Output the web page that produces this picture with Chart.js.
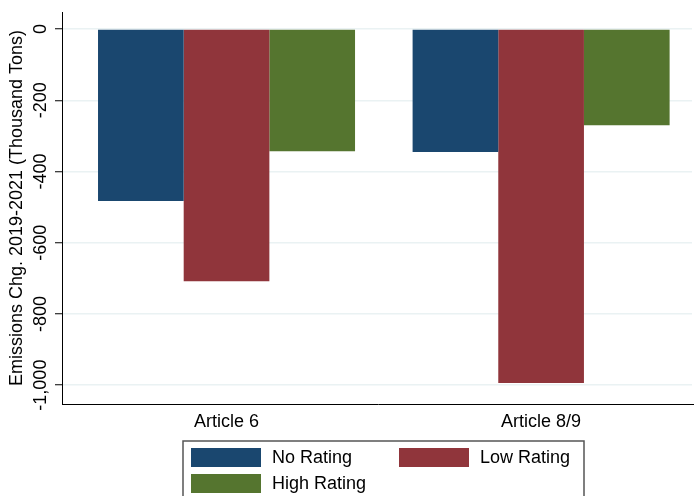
<!DOCTYPE html>
<html>
<head>
<meta charset="utf-8">
<script src="https://cdn.jsdelivr.net/npm/chart.js@4"></script>
<style>
  body { margin: 0; background: #fff; }
  canvas { display: block; }
</style>
</head>
<body>
<canvas id="emissionsChart" width="694" height="496"></canvas>
<script>
"use strict";

// Groups along the x axis
const categories = ['Article 6', 'Article 8/9'];

// Emissions change 2019-2021, thousand tons
const noRating = [-483, -345];
const lowRating = [-708, -994];
const highRating = [-343, -270];

const yTicks = [0, -200, -400, -600, -800, -1000];

const fontFamily = '"Liberation Sans", Arial, Helvetica, sans-serif';

// group k sits at x = k + 1 on a linear axis
const toPoints = function (values) {
    return values.map(function (v, i) { return { x: i + 1, y: v }; });
};

// Two-column boxed legend, Stata style
const boxLegend = {
    id: 'boxLegend',
    afterDraw: function (chart) {
        const ctx = chart.ctx;
        const sets = chart.data.datasets;
        const area = chart.chartArea;
        const left = 183, top = 441, width = 401, height = 62;
        const colX = [191, 399];
        const rowY = [448, 474];
        const swW = 70, swH = 19;

        ctx.save();
        // keep the plot open on the right side
        ctx.fillStyle = '#ffffff';
        ctx.fillRect(area.right - 2, area.top - 1, 3, area.bottom - area.top);

        ctx.strokeStyle = '#555555';
        ctx.lineWidth = 1.5;
        ctx.strokeRect(left, top, width, height);

        ctx.font = '18px ' + fontFamily;
        ctx.textBaseline = 'middle';
        ctx.textAlign = 'left';
        sets.forEach(function (ds, i) {
            const x = colX[i % 2];
            const y = rowY[Math.floor(i / 2)];
            ctx.fillStyle = ds.backgroundColor;
            ctx.fillRect(x, y, swW, swH);
            ctx.fillStyle = '#000000';
            ctx.fillText(ds.label, x + 81, y + swH / 2 + 1);
        });
        ctx.restore();
    }
};

const ctx = document.getElementById('emissionsChart');

const chart = new Chart(ctx, {
    type: 'bar',
    data: {
        datasets: [
            { label: 'No Rating', data: toPoints(noRating), backgroundColor: '#1a476f' },
            { label: 'Low Rating', data: toPoints(lowRating), backgroundColor: '#90353b' },
            { label: 'High Rating', data: toPoints(highRating), backgroundColor: '#55752f' }
        ]
    },
    options: {
        responsive: false,
        animation: false,
        layout: {
            padding: { top: 12, right: 0, left: 0, bottom: 0 }
        },
        datasets: {
            bar: {
                categoryPercentage: 0.817,
                barPercentage: 1,
                borderWidth: 0
            }
        },
        plugins: {
            legend: { display: false },
            tooltip: { enabled: false }
        },
        scales: {
            x: {
                type: 'linear',
                offset: false,
                min: 0.477,
                max: 2.486,
                afterBuildTicks: function (scale) {
                    scale.ticks = categories.map(function (c, i) { return { value: i + 1 }; });
                },
                afterFit: function (scale) {
                    scale.height = 92;
                },
                grid: {
                    display: false,
                    drawTicks: false,
                    offset: false
                },
                border: {
                    display: true,
                    color: '#000000',
                    width: 1
                },
                ticks: {
                    padding: 7,
                    maxRotation: 0,
                    color: '#000000',
                    font: { family: fontFamily, size: 18 },
                    callback: function (value) {
                        return categories[value - 1];
                    }
                }
            },
            y: {
                min: -1053,
                max: 48,
                afterBuildTicks: function (scale) {
                    scale.ticks = yTicks.map(function (v) { return { value: v }; });
                },
                afterFit: function (scale) {
                    scale.width = 62;
                },
                grid: {
                    color: '#eaf2f3',
                    lineWidth: 1.5,
                    tickLength: 7,
                    tickColor: '#000000',
                    tickWidth: 1
                },
                border: {
                    display: true,
                    color: '#000000',
                    width: 1
                },
                ticks: {
                    minRotation: 90,
                    maxRotation: 90,
                    crossAlign: 'center',
                    padding: -11.5,
                    color: '#000000',
                    font: { family: fontFamily, size: 18 },
                    callback: function (value) {
                        return Number(value).toLocaleString('en-US');
                    }
                },
                title: {
                    display: true,
                    text: 'Emissions Chg. 2019-2021 (Thousand Tons)',
                    color: '#000000',
                    font: { family: fontFamily, size: 18 },
                    padding: { top: 6, bottom: 0 }
                }
            }
        }
    },
    plugins: [boxLegend]
});
</script>
</body>
</html>
